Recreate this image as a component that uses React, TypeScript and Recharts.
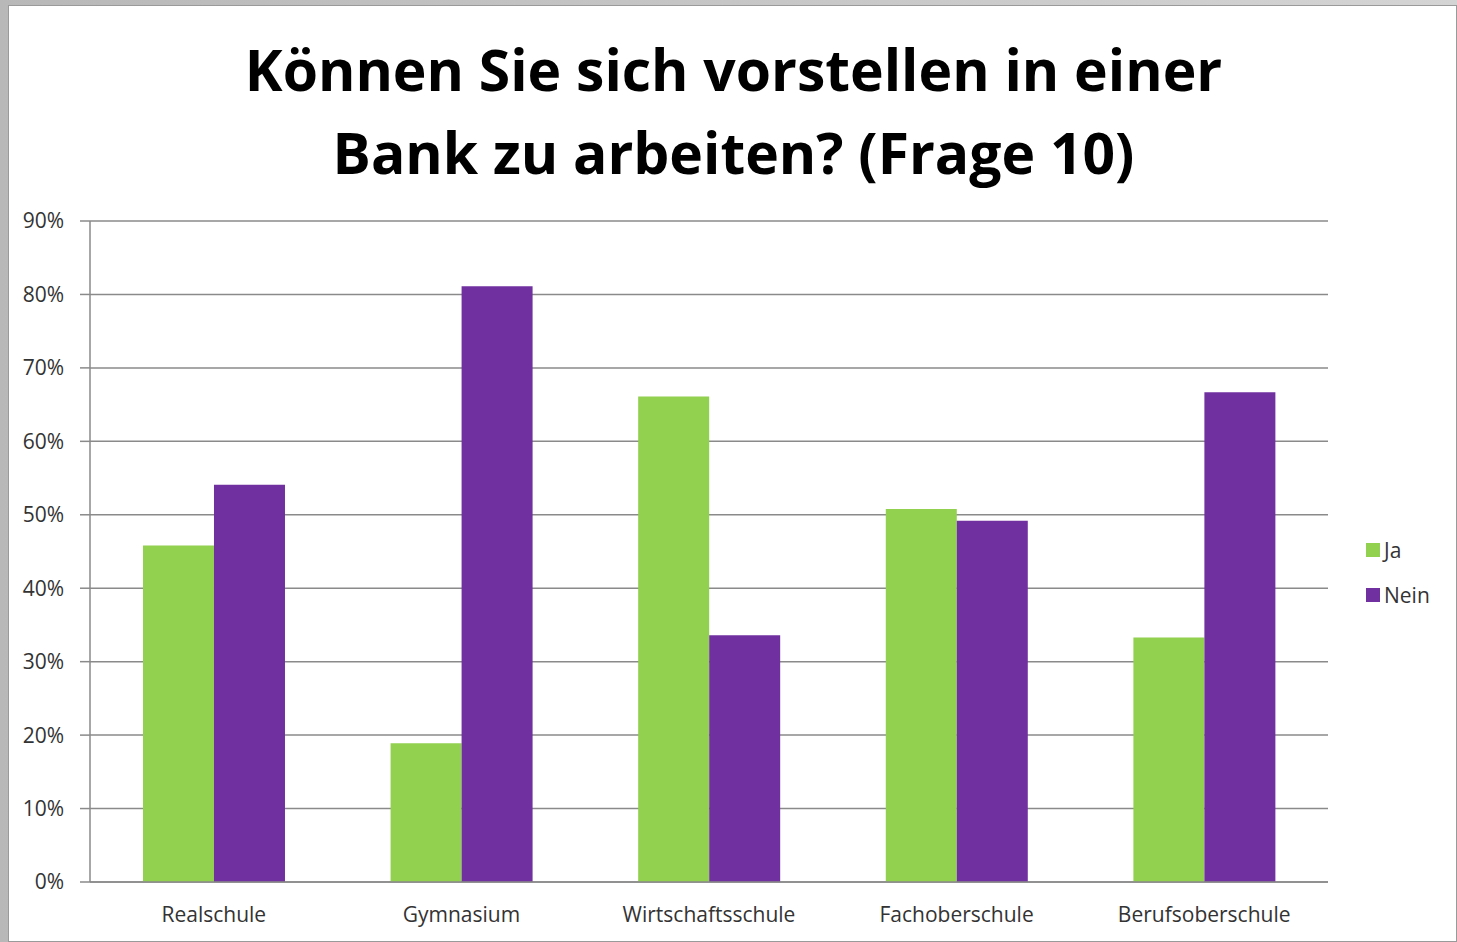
import React from 'react';
import { BarChart, Bar, XAxis, YAxis, CartesianGrid } from 'recharts';

// Schularten
const categories: string[] = ['Realschule', 'Gymnasium', 'Wirtschaftsschule', 'Fachoberschule', 'Berufsoberschule'];

// Anteile in Prozent
const ja: number[] = [45.8, 18.9, 66.1, 50.8, 33.3];
const nein: number[] = [54.1, 81.1, 33.6, 49.2, 66.7];

const yTicks: number[] = [0, 10, 20, 30, 40, 50, 60, 70, 80, 90];

const data = categories.map((name, i) => ({ name, ja: ja[i], nein: nein[i] }));

const GREEN = '#92d050';
const PURPLE = '#7030a0';
const FONT = '"Open Sans", "Noto Sans", sans-serif';

const App: React.FC = () => {
  return (
    <div
      style={{
        position: 'absolute',
        left: 0,
        top: 0,
        width: 1457,
        height: 942,
        background: 'linear-gradient(to right, #b8b8b8, #d4d4d4)',
        overflow: 'hidden',
      }}
    >
      <div
        style={{
          position: 'absolute',
          left: 8,
          top: 5,
          width: 1449,
          height: 937,
          background: '#fff',
          border: '1px solid #9a9a9a',
          boxSizing: 'border-box',
        }}
      >
        <div
          style={{
            position: 'absolute',
            left: 0,
            top: 22,
            width: 1449,
            textAlign: 'center',
            fontFamily: FONT,
            fontWeight: 700,
            fontSize: 57,
            lineHeight: '83px',
            color: '#000',
          }}
        >
          Können Sie sich vorstellen in einer
          <br />
          Bank zu arbeiten? (Frage 10)
        </div>
        <BarChart
          width={1448}
          height={936}
          data={data}
          margin={{ top: 215, right: 129, left: 0, bottom: 30 }}
          barCategoryGap="21.4%"
          barGap={0}
        >
          <CartesianGrid vertical={false} stroke="#8a8a8a" strokeWidth={1.5} />
          <XAxis
            dataKey="name"
            tickLine={false}
            axisLine={{ stroke: '#8a8a8a', strokeWidth: 1.5 }}
            tickMargin={19}
            height={30}
            tick={{ fontFamily: FONT, fontSize: 21, fill: '#333' }}
          />
          <YAxis
            width={81}
            domain={[0, 90]}
            ticks={yTicks}
            tickFormatter={(v: number) => `${v}%`}
            tickSize={10}
            tickMargin={16}
            tickLine={{ stroke: '#8a8a8a', strokeWidth: 1.5 }}
            axisLine={{ stroke: '#8a8a8a', strokeWidth: 1.5 }}
            tick={{ fontFamily: FONT, fontSize: 21, fill: '#333' }}
          />
          <Bar dataKey="ja" name="Ja" fill={GREEN} isAnimationActive={false} />
          <Bar dataKey="nein" name="Nein" fill={PURPLE} isAnimationActive={false} />
        </BarChart>
        <div
          style={{
            position: 'absolute',
            left: 1357,
            top: 521,
            fontFamily: FONT,
            fontSize: 21,
            color: '#333',
          }}
        >
          {[
            { label: 'Ja', color: GREEN },
            { label: 'Nein', color: PURPLE },
          ].map((item) => (
            <div key={item.label} style={{ display: 'flex', alignItems: 'center', height: 45 }}>
              <span style={{ width: 14, height: 14, background: item.color, marginRight: 4 }} />
              {item.label}
            </div>
          ))}
        </div>
      </div>
    </div>
  );
};

export default App;
